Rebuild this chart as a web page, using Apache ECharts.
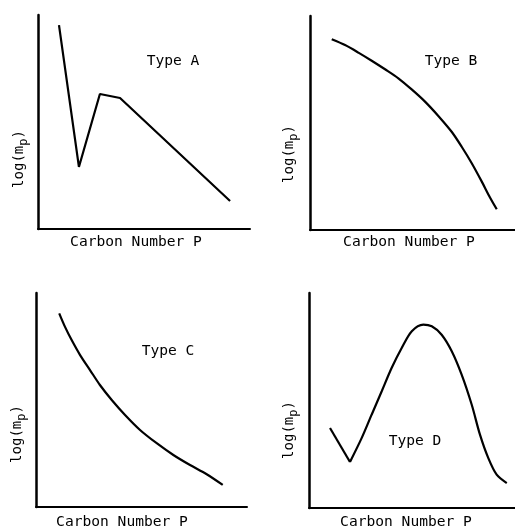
<!DOCTYPE html>
<html>
<head>
    <meta charset="utf-8">
    <title>Carbon number distribution types</title>
    <script src="https://cdn.jsdelivr.net/npm/echarts@6/dist/echarts.min.js"></script>
    <style>
        body { margin: 0; background: #fff; }
    </style>
</head>
<body>
    <div id="main" style="width: 515px;height:530px;"></div>
<script type="text/javascript">
    // values, both axes scaled 0..100
    var typeA_x = [9.9, 19.3, 29.2, 38.7, 90.6];
    var typeA_y = [95.3, 29.0, 63.1, 61.2, 13.1];

    var typeB_x = [10.6, 17.1, 23.6, 30.1, 36.6, 43.1, 49.6, 56.1, 62.6, 69.1, 74.0, 78.9, 83.8, 87.8, 91.1];
    var typeB_y = [89.1, 86.4, 82.9, 79.1, 75.1, 70.9, 65.7, 60.0, 53.3, 45.9, 38.9, 31.2, 22.6, 15.2, 9.7];

    var typeC_x = [11.0, 13.7, 16.9, 20.9, 25.6, 30.3, 35.9, 42.2, 49.3, 57.2, 65.1, 73.0, 80.9, 88.5];
    var typeC_y = [90.5, 84.3, 78.0, 71.0, 64.0, 57.0, 50.0, 43.0, 36.0, 29.8, 24.3, 19.6, 15.3, 10.3];

    // type D: straight drop to the minimum, then a smooth hump
    var typeD1_x = [10.2, 19.9];
    var typeD1_y = [37.2, 21.4];
    var typeD2_x = [19.9, 25.6, 30.4, 35.3, 40.1, 45.0, 49.9, 55.5, 59.6, 64.4, 69.3, 74.1, 79.0, 83.0, 87.0, 91.1, 96.0];
    var typeD2_y = [21.4, 32.6, 43.4, 54.3, 65.1, 74.4, 82.2, 85.3, 84.5, 80.6, 72.9, 62.0, 48.0, 34.1, 23.3, 15.5, 11.6];

    var typeNames = ['Type A', 'Type B', 'Type C', 'Type D'];
    var xName = 'Carbon Number P';

    function pairs(xs, ys) {
        var out = [];
        for (var i = 0; i < xs.length; i++) {
            out.push([xs[i], ys[i]]);
        }
        return out;
    }

    var font = '"DejaVu Sans Mono", "Liberation Mono", monospace';

    var grids = [
        { left: 38, top: 15, width: 212, height: 214 },
        { left: 310, top: 16, width: 205, height: 214 },
        { left: 36, top: 293, width: 211, height: 214 },
        { left: 309, top: 293, width: 206, height: 215 }
    ];

    var xAxes = [], yAxes = [];
    for (var i = 0; i < 4; i++) {
        xAxes.push({
            type: 'value', gridIndex: i, min: 0, max: 100,
            axisLine: { lineStyle: { color: '#000', width: 2 } },
            axisTick: { show: false }, axisLabel: { show: false }, splitLine: { show: false }
        });
        yAxes.push({
            type: 'value', gridIndex: i, min: 0, max: 100,
            axisLine: { lineStyle: { color: '#000', width: 2.5 } },
            axisTick: { show: false }, axisLabel: { show: false }, splitLine: { show: false }
        });
    }

    var lineStyle = { color: '#000', width: 2.2 };
    function curve(idx, data, smooth) {
        return {
            type: 'line', xAxisIndex: idx, yAxisIndex: idx,
            data: data, smooth: smooth, symbol: 'none',
            lineStyle: lineStyle, silent: true, animation: false
        };
    }

    // label positions (px)
    var typePos = [[173, 61], [451, 61], [168, 351], [415, 441]];
    var xNamePos = [[136, 242], [409, 242], [122, 522], [406, 522]];
    var yNamePos = [[19, 159], [289, 154], [17, 434], [289, 430]];

    var graphics = [];
    for (var k = 0; k < 4; k++) {
        graphics.push({
            type: 'text', x: typePos[k][0], y: typePos[k][1],
            style: { text: typeNames[k], font: '14.6px ' + font, fill: '#000', align: 'center', verticalAlign: 'middle' }
        });
        graphics.push({
            type: 'text', x: xNamePos[k][0], y: xNamePos[k][1],
            style: { text: xName, font: '14.6px ' + font, fill: '#000', align: 'center', verticalAlign: 'middle' }
        });
        graphics.push({
            type: 'text', x: yNamePos[k][0], y: yNamePos[k][1], rotation: Math.PI / 2,
            style: {
                text: 'log(m{s|p})', fontFamily: font, fontSize: 14, fill: '#000',
                align: 'center', verticalAlign: 'middle',
                rich: { s: { fontFamily: font, fontSize: 12, fill: '#000', padding: [10, 0, 0, 0] } }
            }
        });
    }

    var myChart = echarts.init(document.getElementById('main'));
    var option = {
        backgroundColor: '#fff',
        animation: false,
        grid: grids,
        xAxis: xAxes,
        yAxis: yAxes,
        graphic: graphics,
        series: [
            curve(0, pairs(typeA_x, typeA_y), false),
            curve(1, pairs(typeB_x, typeB_y), 0.3),
            curve(2, pairs(typeC_x, typeC_y), 0.3),
            curve(3, pairs(typeD1_x, typeD1_y), false),
            curve(3, pairs(typeD2_x, typeD2_y), 0.3)
        ]
    };
    myChart.setOption(option);
</script>
</body>
</html>
